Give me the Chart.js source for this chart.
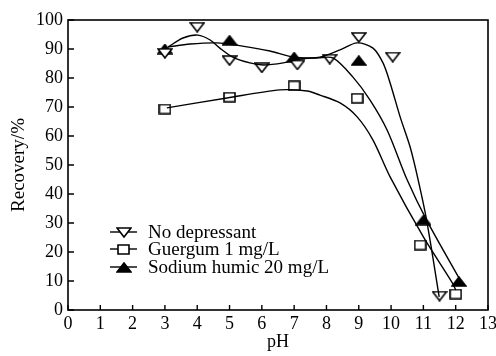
<!DOCTYPE html>
<html>
<head>
<meta charset="utf-8">
<script src="https://cdn.jsdelivr.net/npm/chart.js@4/dist/chart.umd.min.js"></script>
<style>
  html, body { margin: 0; padding: 0; background: #fff; }
  #wrap { width: 496px; height: 356px; }
</style>
</head>
<body>
<div id="wrap"><canvas id="chart" width="496" height="356"></canvas></div>
<script>
// measured points
const phNoDep = [3, 4, 5, 6, 7.1, 8.1, 9, 10.05, 11.5];
const recNoDep = [88.5, 97.5, 86, 83.5, 84.5, 86.5, 94, 87.2, 4.8];
const phGuar = [3, 5, 7, 8.95, 10.9, 12];
const recGuar = [69.3, 73.4, 77.3, 73, 22.4, 5.5];
const phHumic = [3, 5, 7, 9, 11, 12.1];
const recHumic = [90, 93, 87.2, 86, 31, 9.8];

// fitted curves
const curveNoDepX = [3.1, 3.56, 4.02, 4.4, 4.7, 5.1, 5.63, 6.04, 6.66, 7.18, 7.8, 8.42, 8.95, 9.44, 9.75, 9.97, 10.28, 10.59, 10.84, 11.1, 11.49];
const curveNoDepY = [90.7, 93.8, 94.8, 93.1, 90.3, 87.2, 85.2, 84.5, 85.2, 86.6, 87.2, 89.7, 92.1, 90.3, 85.2, 78.3, 66.6, 56.2, 44.8, 31, 4.5];
const curveGuarX = [3.06, 4.92, 6.56, 7.4, 7.8, 8.42, 8.95, 9.44, 9.97, 11.0, 11.9, 12.0];
const curveGuarY = [69.7, 73.1, 75.9, 75.5, 74.1, 71.4, 66.6, 58.6, 45.9, 25.2, 9.3, 6.9];
const curveHumicX = [3.1, 3.78, 4.6, 5.4, 6.25, 6.97, 7.7, 8.2, 8.82, 9.35, 9.88, 10.5, 11.1, 12.14];
const curveHumicY = [90.7, 91.7, 92.1, 91, 89.3, 87.2, 86.9, 86.9, 80.3, 72.4, 62, 44.8, 31, 10.3];

const xTicks = [0, 1, 2, 3, 4, 5, 6, 7, 8, 9, 10, 11, 12, 13];
const yTicks = [0, 10, 20, 30, 40, 50, 60, 70, 80, 90, 100];

const labels = ["No depressant", "Guergum 1 mg/L", "Sodium humic 20 mg/L"];

const pts = (xs, ys) => xs.map((x, i) => ({ x: x, y: ys[i] }));

const serif = "'Liberation Serif', serif";

// marker images (the original markers are wider than tall)
function marker(kind) {
  const w = kind === "square" ? 13 : 16, h = 11;
  const cv = document.createElement("canvas");
  cv.width = w; cv.height = h;
  const c = cv.getContext("2d");
  c.lineWidth = 1.6;
  c.strokeStyle = "#000";
  c.beginPath();
  if (kind === "down") {
    c.moveTo(1, 1); c.lineTo(w - 1, 1); c.lineTo(w / 2, h - 1); c.closePath();
    c.fillStyle = "#fff"; c.fill(); c.stroke();
  } else if (kind === "up") {
    c.moveTo(1, h - 1); c.lineTo(w - 1, h - 1); c.lineTo(w / 2, 1); c.closePath();
    c.fillStyle = "#000"; c.fill(); c.stroke();
  } else {
    c.rect(1, 1, w - 2, h - 2);
    c.fillStyle = "#fff"; c.fill(); c.stroke();
  }
  return cv;
}
const mDown = marker("down"), mSquare = marker("square"), mUp = marker("up");

const curve = (xs, ys) => ({
  data: pts(xs, ys),
  borderColor: "#000",
  borderWidth: 1.4,
  pointRadius: 0,
  tension: 0.3,
  fill: false,
  showLine: true
});

const marks = (xs, ys, img) => ({
  data: pts(xs, ys),
  showLine: false,
  pointStyle: img,
  pointRadius: 6
});

// frame, inward ticks and in-plot legend
const framePlugin = {
  id: "frame",
  afterDraw(chart) {
    const c = chart.ctx, a = chart.chartArea;
    const xs = chart.scales.x, ys = chart.scales.y;
    c.save();
    c.strokeStyle = "#000";
    c.lineWidth = 1.6;
    c.strokeRect(a.left, a.top, a.right - a.left, a.bottom - a.top);
    c.lineWidth = 1.4;
    c.beginPath();
    xTicks.forEach(v => {
      const px = xs.getPixelForValue(v);
      c.moveTo(px, a.bottom);
      c.lineTo(px, a.bottom - 5);
    });
    yTicks.forEach(v => {
      const py = ys.getPixelForValue(v);
      c.moveTo(a.left, py);
      c.lineTo(a.left + 6, py);
    });
    c.stroke();

    // legend
    const imgs = [mDown, mSquare, mUp];
    const lx = 110, rows = [232, 249, 267];
    c.font = "19px " + serif;
    c.textBaseline = "middle";
    c.fillStyle = "#000";
    imgs.forEach((img, i) => {
      const y = rows[i];
      c.lineWidth = 1.4;
      c.beginPath();
      c.moveTo(lx, y);
      c.lineTo(lx + 27, y);
      c.stroke();
      c.drawImage(img, Math.round(lx + 13.5 - img.width / 2), Math.round(y - img.height / 2));
      c.fillText(labels[i], lx + 38, y + 1);
    });
    c.restore();
  }
};

new Chart(document.getElementById("chart"), {
  type: "scatter",
  data: {
    datasets: [
      curve(curveNoDepX, curveNoDepY),
      curve(curveGuarX, curveGuarY),
      curve(curveHumicX, curveHumicY),
      marks(phNoDep, recNoDep, mDown),
      marks(phGuar, recGuar, mSquare),
      marks(phHumic, recHumic, mUp)
    ]
  },
  options: {
    responsive: false,
    animation: false,
    layout: { padding: { left: 0, right: 8, top: 20, bottom: 0 } },
    plugins: { legend: { display: false }, tooltip: { enabled: false } },
    scales: {
      x: {
        type: "linear",
        min: 0, max: 13,
        afterBuildTicks: s => { s.ticks = xTicks.map(v => ({ value: v })); },
        afterFit: s => { s.height = 46; s.paddingRight = 0; },
        grid: { display: false, drawTicks: false },
        border: { display: false },
        ticks: { color: "#000", font: { family: serif, size: 18 }, padding: 3, maxRotation: 0 },
        title: { display: true, text: "pH", color: "#000", font: { family: serif, size: 18 }, padding: { top: 0, bottom: 3 } }
      },
      y: {
        min: 0, max: 100,
        afterBuildTicks: s => { s.ticks = yTicks.map(v => ({ value: v })); },
        afterFit: s => { s.width = 68; },
        grid: { display: false, drawTicks: false },
        border: { display: false },
        ticks: { color: "#000", font: { family: serif, size: 18 }, padding: 5 },
        title: { display: true, text: "Recovery/%", color: "#000", font: { family: serif, size: 19 }, padding: { top: 8, bottom: 0 } }
      }
    }
  },
  plugins: [framePlugin]
});
</script>
</body>
</html>
